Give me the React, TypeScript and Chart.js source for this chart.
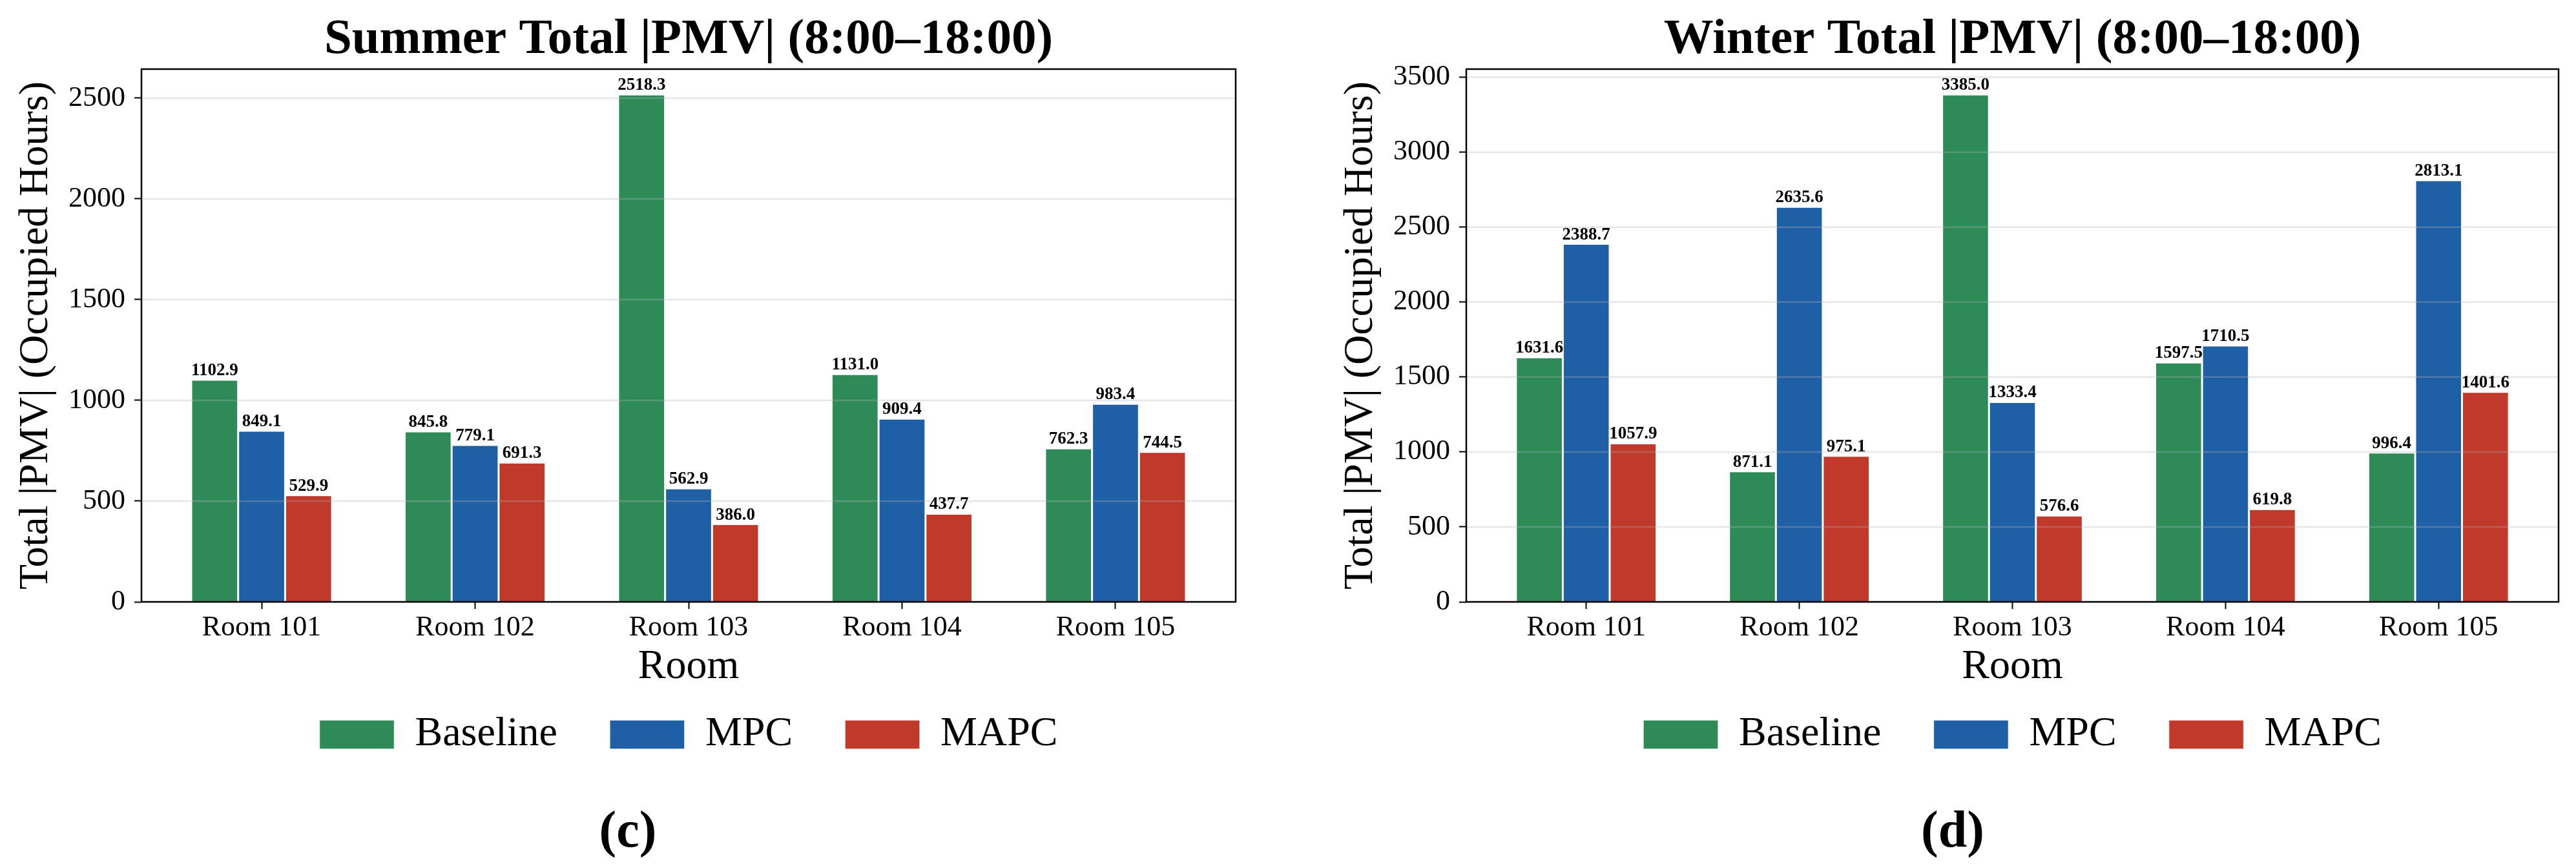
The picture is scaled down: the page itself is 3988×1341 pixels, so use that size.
import { useEffect, useRef } from 'react';
import Chart from 'chart.js/auto';

const rooms = ['Room 101', 'Room 102', 'Room 103', 'Room 104', 'Room 105'];
const seriesNames = ['Baseline', 'MPC', 'MAPC'];

const summerBaseline = [1102.9, 845.8, 2518.3, 1131.0, 762.3];
const summerMpc = [849.1, 779.1, 562.9, 909.4, 983.4];
const summerMapc = [529.9, 691.3, 386.0, 437.7, 744.5];

const winterBaseline = [1631.6, 871.1, 3385.0, 1597.5, 996.4];
const winterMpc = [2388.7, 2635.6, 1333.4, 1710.5, 2813.1];
const winterMapc = [1057.9, 975.1, 576.6, 619.8, 1401.6];

const summerTicks = [0, 500, 1000, 1500, 2000, 2500];
const winterTicks = [0, 500, 1000, 1500, 2000, 2500, 3000, 3500];

const seriesColors = ['#2e8b57', '#1f5fa6', '#c0392b'];
const FONT = '"Liberation Serif", "Times New Roman", Times, serif';
const BAR_WIDTH = 0.22;

Chart.defaults.font.family = FONT;
Chart.defaults.color = '#000';

// grid lines on top of the bars (like the matplotlib original), value labels and the box frame
const panelPlugin = {
  id: 'panelDecor',
  afterDatasetsDraw(chart: any) {
    const { ctx, chartArea: a, scales } = chart;
    const y = scales.y;
    ctx.save();
    ctx.strokeStyle = 'rgba(176,176,176,0.32)';
    ctx.lineWidth = 2.5;
    y.ticks.forEach((t: any) => {
      const py = y.getPixelForValue(t.value);
      ctx.beginPath();
      ctx.moveTo(a.left, py);
      ctx.lineTo(a.right, py);
      ctx.stroke();
    });

    ctx.fillStyle = '#000';
    ctx.font = `bold 27px ${FONT}`;
    ctx.textAlign = 'center';
    ctx.textBaseline = 'alphabetic';
    chart.data.datasets.forEach((ds: any, i: number) => {
      chart.getDatasetMeta(i).data.forEach((bar: any, j: number) => {
        ctx.fillText(ds.data[j].y.toFixed(1), bar.x, bar.y - 7);
      });
    });

    ctx.strokeStyle = '#000';
    ctx.lineWidth = 2.5;
    ctx.strokeRect(a.left, a.top, a.right - a.left, a.bottom - a.top);
    ctx.restore();
  },
};

interface BarPanelProps {
  title: string;
  series: number[][];
  yTicks: number[];
  width: number;
  padRight: number;
}

function BarPanel({ title, series, yTicks, width, padRight }: BarPanelProps) {
  const canvasRef = useRef<HTMLCanvasElement | null>(null);

  useEffect(() => {
    if (!canvasRef.current) return;

    // same limits matplotlib picks: 5% margin on top, 5% around the bar groups
    const yMax = Math.max(...series.flat()) * 1.05;
    const span = rooms.length - 1 + 3 * BAR_WIDTH;
    const xMin = -1.5 * BAR_WIDTH - 0.05 * span;
    const xMax = rooms.length - 1 + 1.5 * BAR_WIDTH + 0.05 * span;

    const chart = new Chart(canvasRef.current, {
      type: 'bar',
      data: {
        datasets: series.map((values, i) => ({
          label: seriesNames[i],
          data: values.map((v, j) => ({ x: j, y: v })),
          backgroundColor: seriesColors[i],
          borderColor: 'rgba(255,255,255,0.85)',
          borderWidth: 1.5,
          categoryPercentage: 3 * BAR_WIDTH,
          barPercentage: 1,
        })),
      },
      options: {
        responsive: true,
        maintainAspectRatio: false,
        animation: false,
        layout: { padding: { top: 0, left: 0, right: padRight, bottom: 161.5 } },
        plugins: {
          title: {
            display: true,
            text: title,
            fullSize: false,
            color: '#000',
            font: { family: FONT, size: 77, weight: 'bold', lineHeight: 1 },
            padding: { top: 24, bottom: 6 },
          },
          legend: {
            position: 'bottom',
            fullSize: false,
            labels: {
              color: '#000',
              font: { family: FONT, size: 64 },
              boxWidth: 116,
              boxHeight: 45,
              padding: 81,
            },
          },
          tooltip: { enabled: false },
        },
        scales: {
          x: {
            type: 'linear',
            min: xMin,
            max: xMax,
            offset: false,
            afterBuildTicks: (scale: any) => {
              scale.ticks = rooms.map((_, i) => ({ value: i }));
            },
            afterFit: (scale: any) => {
              scale.height = 92.5;
            },
            ticks: {
              callback: (v: any) => rooms[v] ?? '',
              font: { family: FONT, size: 44, lineHeight: 1.2 },
              padding: 3,
              maxRotation: 0,
              autoSkip: false,
              color: '#000',
            },
            grid: {
              offset: false,
              drawOnChartArea: false,
              drawTicks: true,
              tickLength: 11,
              tickColor: '#000',
              tickWidth: 2,
            },
            border: { display: false },
            title: {
              display: true,
              text: 'Room',
              color: '#000',
              font: { family: FONT, size: 64, lineHeight: 1 },
              padding: { top: 0, bottom: -40.5 },
            },
          },
          y: {
            min: 0,
            max: yMax,
            afterBuildTicks: (scale: any) => {
              scale.ticks = yTicks.map((v) => ({ value: v }));
            },
            afterFit: (scale: any) => {
              scale.width = 219;
            },
            ticks: {
              callback: (v: any) => String(v),
              font: { family: FONT, size: 44 },
              padding: 14,
              color: '#000',
            },
            grid: { drawOnChartArea: false, drawTicks: true, tickLength: 11, tickColor: '#000', tickWidth: 2 },
            border: { display: false },
            title: {
              display: true,
              text: 'Total |PMV| (Occupied Hours)',
              color: '#000',
              font: { family: FONT, size: 64, lineHeight: 1 },
              padding: { top: 24, bottom: 0 },
            },
          },
        },
      },
      plugins: [panelPlugin],
    } as any);

    return () => chart.destroy();
  }, [title, series, yTicks, padRight]);

  return (
    <div style={{ position: 'relative', width, height: 1341 }}>
      <canvas ref={canvasRef} />
    </div>
  );
}

const panelLabel: React.CSSProperties = {
  position: 'absolute',
  top: 1244,
  width: 400,
  textAlign: 'center',
  fontFamily: FONT,
  fontWeight: 'bold',
  fontSize: 80,
  lineHeight: '80px',
  color: '#000',
};

export default function App() {
  return (
    <div
      style={{
        position: 'absolute',
        left: 0,
        top: 0,
        width: 3988,
        height: 1341,
        background: '#fff',
        overflow: 'hidden',
      }}
    >
      <div style={{ position: 'absolute', left: 0, top: 0 }}>
        <BarPanel
          title="Summer Total |PMV| (8:00–18:00)"
          series={[summerBaseline, summerMpc, summerMapc]}
          yTicks={summerTicks}
          width={1994}
          padRight={81}
        />
      </div>
      <div style={{ position: 'absolute', left: 2051, top: 0 }}>
        <BarPanel
          title="Winter Total |PMV| (8:00–18:00)"
          series={[winterBaseline, winterMpc, winterMapc]}
          yTicks={winterTicks}
          width={1937}
          padRight={27}
        />
      </div>
      <div style={{ ...panelLabel, left: 972 - 200 }}>(c)</div>
      <div style={{ ...panelLabel, left: 3023 - 200 }}>(d)</div>
    </div>
  );
}
